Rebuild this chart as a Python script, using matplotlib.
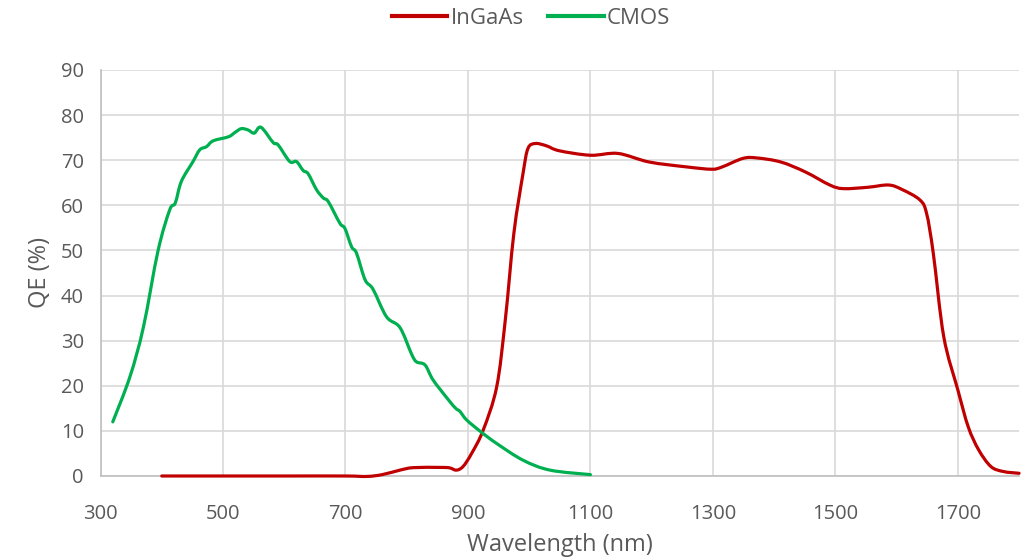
import matplotlib.pyplot as plt
from matplotlib.path import Path
from matplotlib.patches import PathPatch
from matplotlib.lines import Line2D

# QE curves
CMOS_WL = [320, 348, 370, 394, 413, 422, 432, 451, 462, 473, 484, 509, 520, 530,
           541, 551, 562, 582, 590, 609, 620, 631, 639, 653, 664, 672, 691, 699,
           710, 718, 732, 745, 767, 789, 808, 816, 830, 843, 868, 880, 887, 898,
           922, 947, 990, 1034, 1100]
CMOS_QE = [12.0, 22.0, 33.0, 50.0, 59.0, 60.5, 65.3, 69.7, 72.3, 73.0, 74.3, 75.2,
           76.2, 77.0, 76.7, 76.0, 77.3, 73.9, 73.4, 69.7, 69.7, 67.7, 67.0, 63.4,
           61.6, 60.8, 56.0, 54.9, 50.8, 49.4, 43.5, 41.4, 35.3, 32.9, 27.0, 25.3,
           24.6, 21.3, 16.9, 15.0, 14.3, 12.4, 9.7, 7.2, 3.5, 1.3, 0.3]

INGAAS_WL = [400, 500, 600, 700, 735, 760, 789, 811, 854, 870, 881, 892, 906, 925,
             947, 961, 975, 990, 998, 1010, 1028, 1049, 1100, 1145, 1196, 1258,
             1298, 1315, 1349, 1372, 1411, 1451, 1491, 1513, 1553, 1587, 1609,
             1638, 1649, 1660, 1677, 1700, 1717, 1734, 1754, 1774, 1800]
INGAAS_QE = [0.0, 0.0, 0.0, 0.0, -0.1, 0.3, 1.3, 1.85, 1.9, 1.8, 1.3, 2.1, 5.0, 10.2,
             19.8, 34.6, 53.8, 67.1, 72.6, 73.7, 73.2, 72.1, 71.1, 71.5, 69.6, 68.5,
             68.0, 68.5, 70.4, 70.5, 69.6, 67.4, 64.5, 63.7, 64.0, 64.5, 63.5,
             61.2, 58.2, 49.3, 30.9, 19.1, 10.9, 5.8, 2.1, 1.0, 0.6]

X_TICKS = list(range(300, 1800, 200))
Y_TICKS = list(range(0, 100, 10))

TXT = "#595959"
RED = "#C00000"
GREEN = "#00B050"
plt.rcParams["font.family"] = ["Open Sans", "DejaVu Sans"]


def smooth_path(xs, ys):
    """Excel-style smoothed line: cubic Bezier through every data point."""
    pts = list(zip(xs, ys))
    verts = [pts[0]]
    codes = [Path.MOVETO]
    n = len(pts)
    for i in range(n - 1):
        p0 = pts[max(i - 1, 0)]
        p1 = pts[i]
        p2 = pts[i + 1]
        p3 = pts[min(i + 2, n - 1)]
        c1 = (p1[0] + (p2[0] - p0[0]) / 6, p1[1] + (p2[1] - p0[1]) / 6)
        c2 = (p2[0] - (p3[0] - p1[0]) / 6, p2[1] - (p3[1] - p1[1]) / 6)
        verts += [c1, c2, p2]
        codes += [Path.CURVE4] * 3
    return Path(verts, codes)


fig = plt.figure(figsize=(10.28, 5.59), dpi=100)
ax = fig.add_axes([0.0978, 0.1485, 0.8935, 0.7263])

for xs, ys, c in ((INGAAS_WL, INGAAS_QE, RED), (CMOS_WL, CMOS_QE, GREEN)):
    ax.add_patch(PathPatch(smooth_path(xs, ys), fill=False, edgecolor=c, lw=2.3,
                           joinstyle="round", capstyle="round", clip_on=False,
                           zorder=3))

ax.set_xlim(300, 1800)
ax.set_ylim(0, 90)
ax.set_xticks(X_TICKS)
ax.set_yticks(Y_TICKS)
ax.grid(True, color="#d9d9d9", lw=1.2)
ax.set_axisbelow(True)
for s in ("top", "right"):
    ax.spines[s].set_visible(False)
for s in ("left", "bottom"):
    ax.spines[s].set_color("#bfbfbf")
    ax.spines[s].set_linewidth(1.2)
ax.tick_params(length=0, labelsize=14.5, labelcolor=TXT)
ax.tick_params(axis="x", pad=20)
ax.tick_params(axis="y", pad=12)

ax.set_xlabel("Wavelength (nm)", fontsize=17, color=TXT, labelpad=7)
ax.set_ylabel("QE (%)", fontsize=17, color=TXT, labelpad=6)

handles = [Line2D([], [], color=RED, lw=3), Line2D([], [], color=GREEN, lw=3)]
fig.legend(handles, ["InGaAs", "CMOS"], loc="center",
           bbox_to_anchor=(531 / 1028, 1 - 18 / 559),
           ncol=2, frameon=False, fontsize=16, labelcolor=TXT,
           handlelength=2.5, handletextpad=0.15, columnspacing=1.1,
           borderpad=0)

fig.savefig("out.png", dpi=100)
